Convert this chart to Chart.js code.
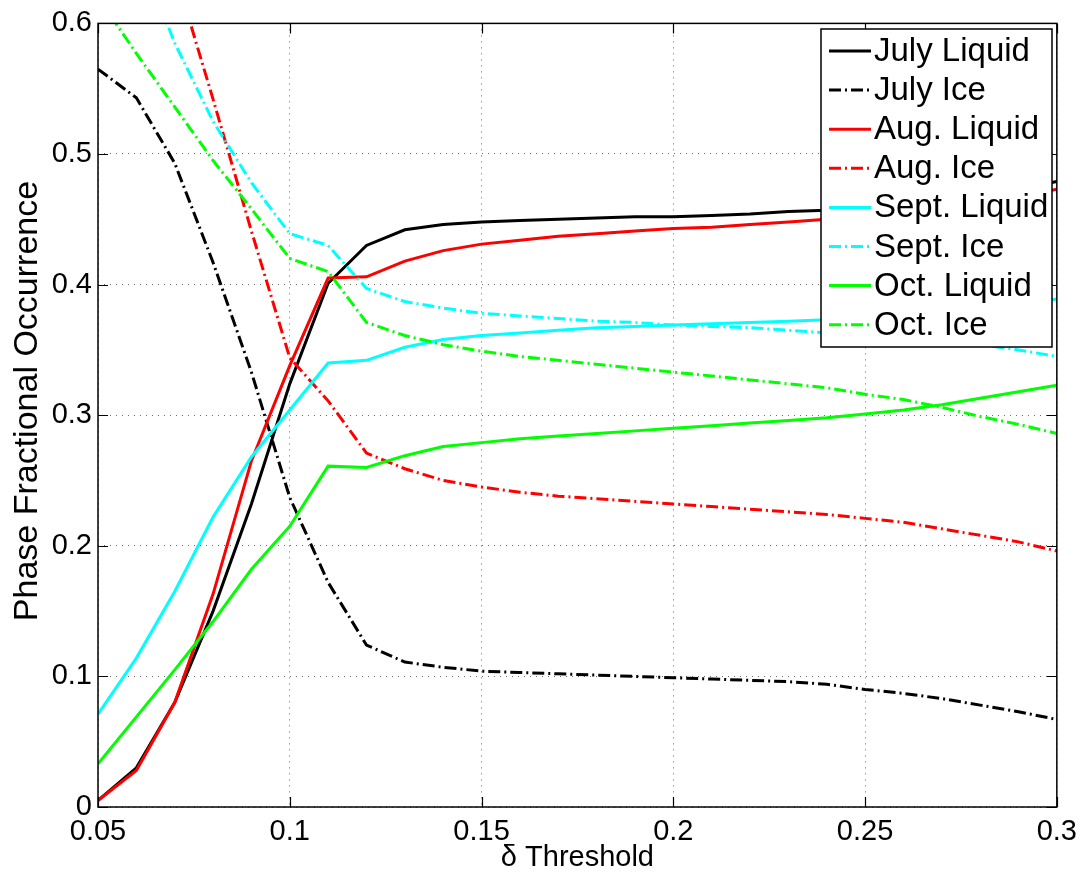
<!DOCTYPE html>
<html>
<head>
<meta charset="utf-8">
<script src="https://cdn.jsdelivr.net/npm/chart.js@4/dist/chart.umd.min.js"></script>
<style>
  html, body { margin: 0; padding: 0; background: #fff; }
  #wrap { width: 1085px; height: 876px; }
</style>
</head>
<body>
<div id="wrap"><canvas id="c" width="1085" height="876"></canvas></div>
<script>
// ---- data ----
const thresholds = [0.05,0.06,0.07,0.08,0.09,0.10,0.11,0.12,0.13,0.14,0.15,0.16,0.17,0.18,0.19,0.20,0.21,0.22,0.23,0.24,0.25,0.26,0.27,0.28,0.29,0.30];
const julyLiquid = [0.005,0.030,0.080,0.150,0.232,0.324,0.401,0.430,0.442,0.446,0.448,0.449,0.450,0.451,0.452,0.452,0.453,0.454,0.456,0.457,0.459,0.461,0.464,0.468,0.473,0.479];
const julyIce    = [0.565,0.543,0.493,0.417,0.333,0.237,0.172,0.124,0.111,0.107,0.104,0.103,0.102,0.101,0.100,0.099,0.098,0.097,0.096,0.094,0.090,0.087,0.083,0.078,0.073,0.067];
const augLiquid  = [0.005,0.028,0.080,0.163,0.265,0.338,0.405,0.406,0.418,0.426,0.431,0.434,0.437,0.439,0.441,0.443,0.444,0.446,0.448,0.450,0.452,0.454,0.457,0.461,0.467,0.473];
const augIce     = [0.840,0.740,0.640,0.542,0.441,0.344,0.311,0.271,0.259,0.250,0.245,0.241,0.238,0.236,0.234,0.232,0.230,0.228,0.226,0.224,0.221,0.218,0.213,0.208,0.203,0.196];
const septLiquid = [0.071,0.114,0.165,0.222,0.268,0.304,0.340,0.342,0.352,0.358,0.361,0.363,0.365,0.367,0.368,0.369,0.370,0.371,0.372,0.373,0.374,0.376,0.378,0.381,0.385,0.389];
const septIce    = [0.720,0.660,0.585,0.525,0.478,0.439,0.430,0.397,0.387,0.382,0.378,0.376,0.374,0.372,0.371,0.369,0.368,0.367,0.365,0.363,0.362,0.360,0.357,0.354,0.350,0.345];
const octLiquid  = [0.033,0.069,0.105,0.142,0.182,0.215,0.261,0.260,0.269,0.276,0.279,0.282,0.284,0.286,0.288,0.290,0.292,0.294,0.296,0.298,0.301,0.304,0.308,0.313,0.318,0.323];
const octIce     = [0.620,0.577,0.536,0.495,0.458,0.420,0.410,0.371,0.361,0.354,0.349,0.345,0.342,0.339,0.336,0.333,0.330,0.327,0.324,0.321,0.316,0.312,0.306,0.299,0.293,0.286];
const seriesNames = ["July Liquid","July Ice","Aug. Liquid","Aug. Ice","Sept. Liquid","Sept. Ice","Oct. Liquid","Oct. Ice"];
const xTickValues = [0.05,0.10,0.15,0.20,0.25,0.30];
const yTickValues = [0,0.1,0.2,0.3,0.4,0.5,0.6];
const xTitle = "\u03b4 Threshold";
const yTitle = "\u00a0\u00a0\u00a0Phase Fractional Occurrence";

// ---- styles ----
const FONT = '"Liberation Sans", Arial, Helvetica, sans-serif';
const seriesValues = [julyLiquid, julyIce, augLiquid, augIce, septLiquid, septIce, octLiquid, octIce];
const seriesColors = ['#000000','#000000','#ff0000','#ff0000','#00ffff','#00ffff','#00ff00','#00ff00'];
const DASHDOT = [12,4,2,4];
const seriesDash = [[],DASHDOT,[],DASHDOT,[],DASHDOT,[],DASHDOT];

const datasets = seriesValues.map((vals, i) => ({
  label: seriesNames[i],
  data: thresholds.map((t, j) => ({x: t, y: vals[j]})),
  borderColor: seriesColors[i],
  backgroundColor: seriesColors[i],
  borderWidth: 3,
  borderDash: seriesDash[i],
  borderCapStyle: 'butt',
  pointRadius: 0,
  tension: 0,
  fill: false,
  clip: 0,
  order: seriesValues.length - i
}));

const frameAndLegend = {
  id: 'frameAndLegend',
  afterDatasetsDraw(chart) {
    const ctx = chart.ctx;
    const a = chart.chartArea;
    const xs = chart.scales.x, ys = chart.scales.y;
    ctx.save();
    // box
    ctx.strokeStyle = '#000';
    ctx.lineWidth = 1.5;
    ctx.setLineDash([]);
    ctx.strokeRect(a.left, a.top, a.right - a.left, a.bottom - a.top);
    // inward ticks on all sides
    const TL = 10;
    ctx.lineWidth = 1.2;
    ctx.beginPath();
    xTickValues.forEach(v => {
      const px = Math.round(xs.getPixelForValue(v)) + 0.5;
      ctx.moveTo(px, a.bottom); ctx.lineTo(px, a.bottom - TL);
      ctx.moveTo(px, a.top); ctx.lineTo(px, a.top + TL);
    });
    yTickValues.forEach(v => {
      const py = Math.round(ys.getPixelForValue(v)) + 0.5;
      ctx.moveTo(a.left, py); ctx.lineTo(a.left + TL, py);
      ctx.moveTo(a.right, py); ctx.lineTo(a.right - TL, py);
    });
    ctx.stroke();

    // legend
    const L = 821, T = 29, R = 1052, B = 347;
    ctx.fillStyle = '#fff';
    ctx.fillRect(L, T, R - L, B - T);
    ctx.strokeStyle = '#000';
    ctx.lineWidth = 1.5;
    ctx.strokeRect(L, T, R - L, B - T);
    ctx.font = '33px ' + FONT;
    ctx.textBaseline = 'middle';
    ctx.textAlign = 'left';
    chart.data.datasets.forEach((ds, i) => {
      const y = 51 + i * 39.1;
      ctx.strokeStyle = ds.borderColor;
      ctx.lineWidth = 3;
      ctx.lineCap = 'butt';
      ctx.setLineDash(ds.borderDash);
      ctx.beginPath();
      ctx.moveTo(829, y); ctx.lineTo(871, y);
      ctx.stroke();
      ctx.setLineDash([]);
      ctx.fillStyle = '#000';
      ctx.fillText(ds.label, 874, y + 1);
    });
    ctx.restore();
  }
};

new Chart(document.getElementById('c'), {
  type: 'line',
  data: { datasets },
  options: {
    responsive: false,
    animation: false,
    events: [],
    layout: { padding: { top: 22, right: 27, left: 0, bottom: 0 } },
    plugins: { legend: { display: false }, tooltip: { enabled: false } },
    scales: {
      x: {
        type: 'linear',
        min: xTickValues[0],
        max: xTickValues[xTickValues.length - 1],
        afterBuildTicks: s => { s.ticks = xTickValues.map(v => ({value: v})); },
        afterFit: s => { s.height = 69; },
        grid: { color: '#6a6a6a', lineWidth: 1, drawTicks: false },
        border: { display: false, dash: [1, 5] },
        ticks: {
          color: '#000', padding: 8, maxRotation: 0, autoSkip: false,
          font: { family: FONT, size: 29 },
          callback: v => String(Math.round(v * 100) / 100)
        },
        title: {
          display: true, text: xTitle, color: '#000',
          font: { family: FONT, size: 29 },
          padding: { top: 0, bottom: 1 }
        }
      },
      y: {
        type: 'linear',
        min: yTickValues[0],
        max: yTickValues[yTickValues.length - 1],
        afterBuildTicks: s => { s.ticks = yTickValues.map(v => ({value: v})); },
        afterFit: s => { s.width = 98; },
        grid: { color: '#6a6a6a', lineWidth: 1, drawTicks: false },
        border: { display: false, dash: [1, 5] },
        ticks: {
          color: '#000', padding: 6, autoSkip: false,
          font: { family: FONT, size: 29 },
          callback: v => String(Math.round(v * 10) / 10)
        },
        title: {
          display: true, text: yTitle, color: '#000',
          font: { family: FONT, size: 34 },
          padding: { top: 7, bottom: 0 }
        }
      }
    }
  },
  plugins: [frameAndLegend]
});
</script>
</body>
</html>
